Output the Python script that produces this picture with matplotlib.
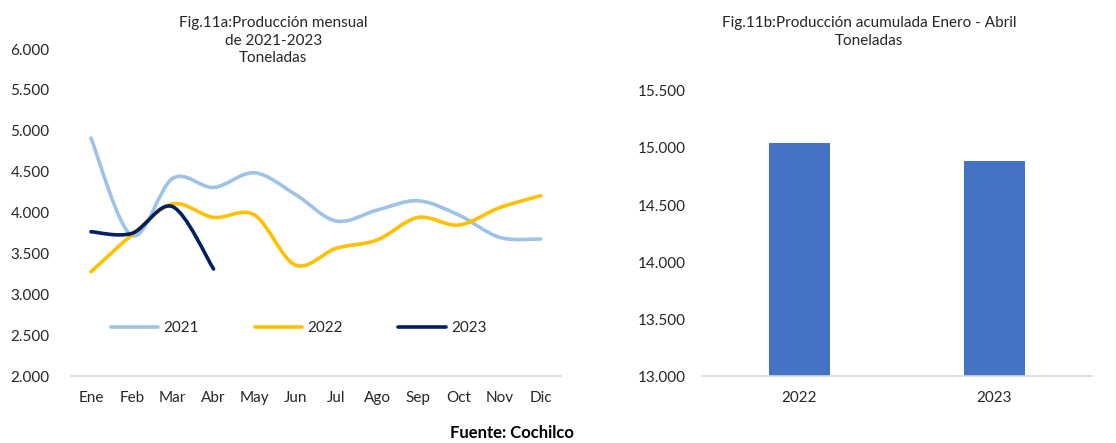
import matplotlib
matplotlib.use("Agg")
import matplotlib.pyplot as plt
from matplotlib.path import Path
from matplotlib.patches import PathPatch
from matplotlib.lines import Line2D
import numpy as np

plt.rcParams['font.family'] = ['Lato', 'DejaVu Sans']

months = ["Ene", "Feb", "Mar", "Abr", "May", "Jun", "Jul", "Ago", "Sep", "Oct", "Nov", "Dic"]
prod_2021 = [4911, 3720, 4418, 4307, 4486, 4222, 3896, 4030, 4144, 3969, 3696, 3676]
prod_2022 = [3276, 3725, 4104, 3940, 3970, 3358, 3562, 3664, 3940, 3847, 4060, 4205]
prod_2023 = [3765, 3745, 4071, 3309]

bar_years = ["2022", "2023"]
bar_values = [15045, 14890]

c2021 = "#9DC3E6"
c2022 = "#FFC000"
c2023 = "#002060"
cbar = "#4472C4"
cgrid = "#D9D9D9"
ctext = "#262626"


def smooth_path(xs, ys):
    """Catmull-Rom style Bezier path through the data points (display smoothing)."""
    pts = np.column_stack([xs, ys]).astype(float)
    n = len(pts)
    verts = [pts[0]]
    codes = [Path.MOVETO]
    for i in range(n - 1):
        p0 = pts[i - 1] if i > 0 else pts[i]
        p1 = pts[i]
        p2 = pts[i + 1]
        p3 = pts[i + 2] if i + 2 < n else pts[i + 1]
        c1 = p1 + (p2 - p0) / 6.0
        c2 = p2 - (p3 - p1) / 6.0
        verts += [c1, c2, p2]
        codes += [Path.CURVE4] * 3
    return Path(verts, codes)


fig = plt.figure(figsize=(11.16, 4.43), dpi=100)

# ---------- left: monthly lines ----------
ax1 = fig.add_axes([0.0632, 0.1512, 0.4395, 0.7381])
ax1.set_xlim(-0.5, 11.5)
ax1.set_ylim(2000, 6000)
x = np.arange(len(months))
for vals, col in [(prod_2021, c2021), (prod_2022, c2022), (prod_2023, c2023)]:
    p = smooth_path(x[:len(vals)], vals)
    ax1.add_patch(PathPatch(p, facecolor="none", edgecolor=col, lw=2.6,
                            capstyle="round", joinstyle="round", transform=ax1.transData))
ax1.set_xticks(x)
ax1.set_xticklabels(months)
yt = np.arange(2000, 6001, 500)
ax1.set_yticks(yt)
ax1.set_yticklabels([f"{v/1000:.3f}" for v in yt])
for s in ["top", "right", "left"]:
    ax1.spines[s].set_visible(False)
ax1.spines["bottom"].set_color(cgrid)
ax1.spines["bottom"].set_linewidth(1.2)
ax1.tick_params(axis="both", length=0, labelsize=11, colors=ctext)
ax1.tick_params(axis="y", pad=15)
ax1.tick_params(axis="x", pad=11)
handles = [Line2D([0], [0], color=c, lw=2.6, solid_capstyle="round") for c in (c2021, c2022, c2023)]
ax1.legend(handles, ["2021", "2022", "2023"], loc="center", bbox_to_anchor=(0.465, 0.147),
           ncol=3, frameon=False, fontsize=11, handlelength=3.1, handletextpad=0.35,
           columnspacing=3.65, labelcolor=ctext)
fig.text(0.245, 0.963, "Fig.11a:Producción mensual\nde 2021-2023\nToneladas", ha="center", va="top",
         fontsize=11, color=ctext, linespacing=1.3)

# ---------- right: cumulative bars ----------
ax2 = fig.add_axes([0.629, 0.1512, 0.3495, 0.6434])
xb = np.arange(len(bar_years))
ax2.bar(xb, bar_values, width=0.31, color=cbar)
ax2.set_xlim(-0.5, 1.5)
ax2.set_ylim(13000, 15500)
ax2.set_xticks(xb)
ax2.set_xticklabels(bar_years)
yt2 = np.arange(13000, 15501, 500)
ax2.set_yticks(yt2)
ax2.set_yticklabels([f"{v/1000:.3f}" for v in yt2])
for s in ["top", "right", "left"]:
    ax2.spines[s].set_visible(False)
ax2.spines["bottom"].set_color(cgrid)
ax2.spines["bottom"].set_linewidth(1.2)
ax2.tick_params(axis="both", length=0, labelsize=11, colors=ctext)
ax2.tick_params(axis="y", pad=12)
ax2.tick_params(axis="x", pad=11)
fig.text(0.779, 0.963, "Fig.11b:Producción acumulada Enero - Abril\nToneladas", ha="center", va="top",
         fontsize=11, color=ctext, linespacing=1.3)

fig.text(0.459, 0.022, "Fuente: Cochilco", ha="center", va="center", fontsize=12,
         fontweight="bold", color="black")

fig.savefig("out.png", dpi=100)
